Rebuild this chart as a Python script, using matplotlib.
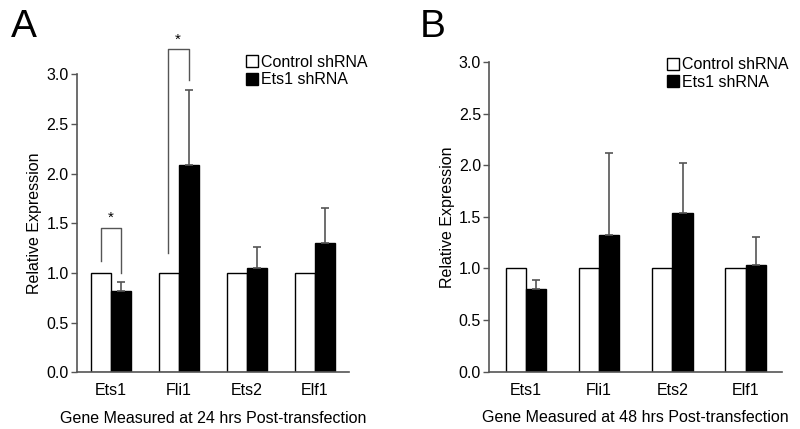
import matplotlib
matplotlib.use("Agg")
import matplotlib.pyplot as plt
from matplotlib.patches import Patch
import numpy as np

plt.rcParams['font.family'] = ['Liberation Sans', 'DejaVu Sans']

genes = ["Ets1", "Fli1", "Ets2", "Elf1"]
series_names = ["Control shRNA", "Ets1 shRNA"]

# Panel A (24 hrs)
a_control = [1.0, 1.0, 1.0, 1.0]
a_ets1 = [0.82, 2.09, 1.05, 1.30]
a_ets1_err = [0.09, 0.75, 0.21, 0.35]

# Panel B (48 hrs)
b_control = [1.0, 1.0, 1.0, 1.0]
b_ets1 = [0.80, 1.325, 1.535, 1.034]
b_ets1_err = [0.086, 0.795, 0.485, 0.266]

yticks = [0.0, 0.5, 1.0, 1.5, 2.0, 2.5, 3.0]

# significance brackets in panel A: (group, left_bottom, top, right_bottom)
a_brackets = [(0, 1.12, 1.45, 1.00), (1, 1.20, 3.25, 2.94)]

fig = plt.figure(figsize=(8, 4.29), dpi=100)
axA = fig.add_axes([0.09625, 0.1322, 0.34, 0.6946])
axB = fig.add_axes([0.6116, 0.1336, 0.3663, 0.7219])

spine_col = "#555555"
err_col = "#555555"

def draw(ax, ctrl, trt, err, width, xlabel, leg_anchor):
    x = np.arange(len(genes))
    ax.bar(x - width / 2, ctrl, width, color="white", edgecolor="black", linewidth=1.0, zorder=2)
    ax.bar(x + width / 2, trt, width, color="black", edgecolor="black", linewidth=1.0, zorder=2)
    ax.errorbar(x + width / 2, trt, yerr=[np.zeros(len(err)), err], fmt="none",
                ecolor=err_col, elinewidth=1.2, capsize=3, capthick=1.2, zorder=3)
    ax.set_xlim(-0.5, len(genes) - 0.5)
    ax.set_ylim(0, 3.0)
    ax.set_yticks(yticks)
    ax.set_yticklabels([f"{v:.1f}" for v in yticks], fontsize=11.5)
    ax.set_xticks(x)
    ax.set_xticklabels(genes, fontsize=11.5)
    ax.tick_params(axis="x", length=0, pad=8)
    ax.tick_params(axis="y", length=4, width=1, color=spine_col, direction="out", pad=2)
    for s in ["top", "right"]:
        ax.spines[s].set_visible(False)
    for s in ["left", "bottom"]:
        ax.spines[s].set_color(spine_col)
        ax.spines[s].set_linewidth(1.2)
    ax.set_ylabel("Relative Expression", fontsize=11.5, labelpad=3)
    ax.set_xlabel(xlabel, fontsize=11.5, labelpad=9)
    handles = [Patch(facecolor="white", edgecolor="black", linewidth=1.0),
               Patch(facecolor="black", edgecolor="black", linewidth=1.0)]
    ax.legend(handles, series_names, loc="upper right", bbox_to_anchor=leg_anchor,
              bbox_transform=fig.transFigure,
              frameon=False, fontsize=11.5, handlelength=0.75, handleheight=0.75,
              handletextpad=0.15, labelspacing=0.15, borderaxespad=0, borderpad=0)

wA = 0.287
wB = 0.277
draw(axA, a_control, a_ets1, a_ets1_err, wA, "Gene Measured at 24 hrs Post-transfection", (0.459, 0.872))
draw(axB, b_control, b_ets1, b_ets1_err, wB, "Gene Measured at 48 hrs Post-transfection", (0.985, 0.866))

for g, lb, top, rb in a_brackets:
    xl = g - wA / 2 - (0.025 if g == 1 else 0)
    xr = g + wA / 2
    axA.plot([xl, xl, xr, xr], [lb, top, top, rb], color=spine_col, lw=1.0, clip_on=False, zorder=4)
    axA.text((xl + xr) / 2, top + 0.03, "*", ha="center", va="bottom", fontsize=11, clip_on=False)

fig.text(0.014, 0.98, "A", fontsize=28, va="top", ha="left")
fig.text(0.525, 0.98, "B", fontsize=28, va="top", ha="left")

fig.savefig("out.png", dpi=100)
